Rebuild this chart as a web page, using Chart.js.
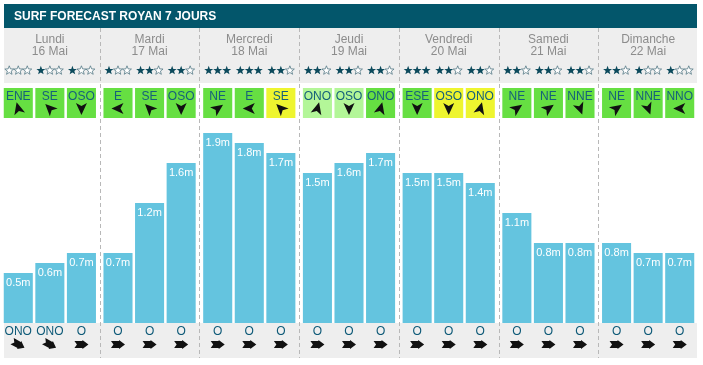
<!DOCTYPE html>
<html lang="fr">
<head>
  <meta charset="UTF-8" />
  <title>Surf Forecast Royan 7 jours</title>
  <script src="https://cdn.jsdelivr.net/npm/chart.js"></script>
  <style>
    html, body { margin: 0; padding: 0; background: #fff; }
    #wrap { width: 703px; height: 365px; }
  </style>
</head>
<body>
  <div id="wrap"><canvas id="surf" width="703" height="365"></canvas></div>

  <script>
    const title = "SURF FORECAST ROYAN 7 JOURS";
    const days = ["Lundi", "Mardi", "Mercredi", "Jeudi", "Vendredi", "Samedi", "Dimanche"];
    const dates = ["16 Mai", "17 Mai", "18 Mai", "19 Mai", "20 Mai", "21 Mai", "22 Mai"];

    // 3 slots per day (21 values)
    const heights = [0.5, 0.6, 0.7,  0.7, 1.2, 1.6,  1.9, 1.8, 1.7,  1.5, 1.6, 1.7,
                     1.5, 1.5, 1.4,  1.1, 0.8, 0.8,  0.8, 0.7, 0.7];
    const stars = [0, 1, 1,  1, 2, 2,  3, 3, 2,  2, 2, 2,  3, 2, 2,  2, 2, 2,  2, 1, 1];
    const windDir = ["ENE", "SE", "OSO",  "E", "SE", "OSO",  "NE", "E", "SE",  "ONO", "OSO", "ONO",
                     "ESE", "OSO", "ONO",  "NE", "NE", "NNE",  "NE", "NNE", "NNO"];
    // arrow heading in degrees, clockwise from up, as drawn in the picture
    const windAngle = [345, 315, 180,  270, 315, 180,  55, 270, 315,  15, 180, 15,
                       180, 180, 15,  55, 55, 160,  55, 160, 270];
    // g = good (green), l = light (pale green), y = meh (yellow)
    const windQuality = ["g", "g", "g",  "g", "g", "g",  "g", "g", "y",  "l", "l", "g",
                         "g", "y", "y",  "g", "g", "g",  "g", "g", "g"];
    const swellDir = ["ONO", "ONO", "O",  "O", "O", "O",  "O", "O", "O",  "O", "O", "O",
                      "O", "O", "O",  "O", "O", "O",  "O", "O", "O"];
    const swellAngle = [118, 118, 90,  90, 90, 90,  90, 90, 90,  90, 90, 90,
                        90, 90, 90,  90, 90, 90,  90, 90, 90];

    const FONT = "Arial, 'Liberation Sans', sans-serif";
    const qualityColor = { g: "#66df42", l: "#b3f698", y: "#eef52f" };

    function drawStar(ctx, x, y, filled) {
      ctx.beginPath();
      for (let i = 0; i < 10; i++) {
        const r = i % 2 === 0 ? 4.7 : 2.0;
        const a = -Math.PI / 2 + i * Math.PI / 5;
        const px = x + r * Math.cos(a), py = y + r * Math.sin(a);
        if (i === 0) ctx.moveTo(px, py); else ctx.lineTo(px, py);
      }
      ctx.closePath();
      if (filled) {
        ctx.fillStyle = "#0c4a5c";
        ctx.fill();
      } else {
        ctx.fillStyle = "#ffffff";
        ctx.fill();
        ctx.strokeStyle = "#557a86";
        ctx.lineWidth = 0.8;
        ctx.stroke();
      }
    }

    function drawWindArrow(ctx, x, y, deg) {
      ctx.save();
      ctx.translate(x, y);
      ctx.rotate(deg * Math.PI / 180);
      ctx.beginPath();
      ctx.moveTo(0, -6.5);
      ctx.lineTo(5.5, 5.5);
      ctx.lineTo(0, 2.5);
      ctx.lineTo(-5.5, 5.5);
      ctx.closePath();
      ctx.fillStyle = "#111";
      ctx.fill();
      ctx.restore();
    }

    function drawSwellArrow(ctx, x, y, deg) {
      ctx.save();
      ctx.translate(x, y);
      ctx.rotate(deg * Math.PI / 180);
      ctx.beginPath();
      ctx.moveTo(0, -7);
      ctx.lineTo(4.5, -1);
      ctx.lineTo(3.5, -1);
      ctx.lineTo(3.5, 7);
      ctx.lineTo(0, 4.5);
      ctx.lineTo(-3.5, 7);
      ctx.lineTo(-3.5, -1);
      ctx.lineTo(-4.5, -1);
      ctx.closePath();
      ctx.fillStyle = "#111";
      ctx.fill();
      ctx.restore();
    }

    const surfPlugin = {
      id: "surfDecor",
      beforeDatasetsDraw(chart) {
        const ctx = chart.ctx;
        const xs = chart.scales.x;
        ctx.save();
        ctx.fillStyle = "#fff";
        ctx.fillRect(0, 0, chart.width, chart.height);

        // title bar
        ctx.fillStyle = "#03566b";
        ctx.fillRect(4, 4, 693, 24);
        ctx.fillStyle = "#fff";
        ctx.font = "bold 12px " + FONT;
        ctx.textAlign = "left";
        ctx.textBaseline = "middle";
        ctx.fillText(title, 14, 16.5);

        // grey bands
        ctx.fillStyle = "#eeeeee";
        ctx.fillRect(4, 28, 693, 55);
        ctx.fillRect(4, 323, 693, 35);

        // day names and dates
        ctx.fillStyle = "#8c8c8c";
        ctx.font = "12px " + FONT;
        ctx.textAlign = "center";
        days.forEach((d, i) => {
          const cx = xs.getPixelForValue(i);
          ctx.fillText(d, cx, 39.5);
          ctx.fillText(dates[i], cx, 51.5);
        });

        // dashed day separators
        ctx.strokeStyle = "#b8b8b8";
        ctx.lineWidth = 1;
        ctx.setLineDash([4, 3]);
        for (let i = 1; i < days.length; i++) {
          const bx = Math.round((xs.getPixelForValue(i - 1) + xs.getPixelForValue(i)) / 2) + 0.5;
          ctx.beginPath();
          ctx.moveTo(bx, 28);
          ctx.lineTo(bx, 358);
          ctx.stroke();
        }
        ctx.setLineDash([]);
        ctx.restore();
      },
      afterDatasetsDraw(chart) {
        const ctx = chart.ctx;
        ctx.save();
        ctx.textAlign = "center";
        ctx.textBaseline = "middle";
        for (let k = 0; k < 3; k++) {
          const meta = chart.getDatasetMeta(k);
          meta.data.forEach((el, d) => {
            const i = d * 3 + k;
            const x = el.x;
            const half = el.width / 2;

            // value label
            ctx.fillStyle = "#fff";
            ctx.font = "11px " + FONT;
            ctx.fillText(heights[i].toFixed(1) + "m", x, el.y + 9.5);

            // rating stars
            for (let s = 0; s < 3; s++) {
              drawStar(ctx, x + (s - 1) * 9, 70.5, s < stars[i]);
            }

            // wind box
            ctx.fillStyle = qualityColor[windQuality[i]];
            ctx.fillRect(x - half, 88, half * 2, 30);
            ctx.fillStyle = "#16607a";
            ctx.font = "12px " + FONT;
            ctx.fillText(windDir[i], x, 96.5);
            drawWindArrow(ctx, x, 108.5, windAngle[i]);

            // swell direction
            ctx.fillStyle = "#0e5a78";
            ctx.fillText(swellDir[i], x, 331.5);
            drawSwellArrow(ctx, x, 344.5, swellAngle[i]);
          });
        }
        ctx.restore();
      }
    };

    const slotData = k => days.map((_, d) => heights[d * 3 + k]);

    new Chart(document.getElementById("surf"), {
      type: "bar",
      data: {
        labels: days,
        datasets: [0, 1, 2].map(k => ({
          label: "slot " + (k + 1),
          data: slotData(k),
          backgroundColor: "#64c4df",
          borderWidth: 0,
          barPercentage: 0.92,
          categoryPercentage: 0.95
        }))
      },
      options: {
        responsive: false,
        animation: false,
        devicePixelRatio: 1,
        layout: { padding: { top: 123, bottom: 42, left: 0, right: 5 } },
        scales: {
          x: { display: false },
          y: { display: false, min: 0, max: 2 }
        },
        plugins: {
          legend: { display: false },
          tooltip: { enabled: false }
        }
      },
      plugins: [surfPlugin]
    });
  </script>
</body>
</html>
